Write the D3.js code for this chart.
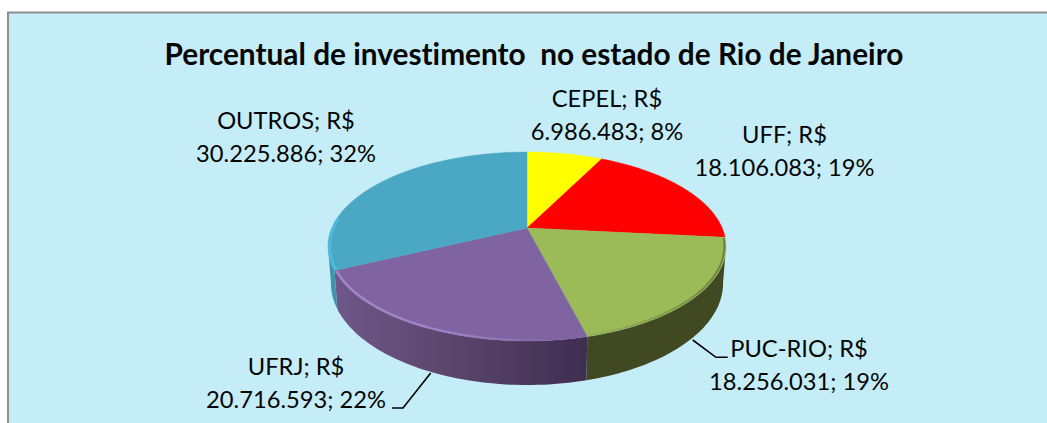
<!DOCTYPE html>
<html><head><meta charset="utf-8">
<script src="https://cdn.jsdelivr.net/npm/d3@7/dist/d3.min.js"></script>
<style>html,body{margin:0;padding:0;background:#fff}svg{display:block}text{font-family:Lato,sans-serif;fill:#050505;white-space:pre;font-variant-ligatures:none}</style>
</head><body><svg id="c" width="1047" height="423"></svg>
<script>
const categories=["CEPEL","UFF","PUC-RIO","UFRJ","OUTROS"];
const investments=[6986483,18106083,18256031,20716593,30225886];
const percents=[8,19,19,22,32];
const topColors=["#ffff00","#ff0000","#9bbb59","#8064a2","#4aa8c4"];
const titleText="Percentual de investimento  no estado de Rio de Janeiro";
const fmt=d3.formatLocale({decimal:",",thousands:".",grouping:[3],currency:["R$",""]}).format(",d");

const svg=d3.select("#c");
const defs=svg.append("defs");
svg.append("rect").attr("x",8).attr("y",12).attr("width",1039).attr("height",411).attr("fill","#c5edf8");
svg.append("path").attr("d","M8,423V12.5H1047").attr("fill","none").attr("stroke","#8e8e8e").attr("stroke-width",2);

// perspective projection of the pie disc
const cx=527,cy=228,R=195.2,k=-0.1958,A=46.24,DEPTH=35.4;
const proj=(t,r=1)=>{const u=Math.sin(t)*r,v=-Math.cos(t)*r,d=1+k*v;return [cx+R*u/d,(cy+A*v)/d];};
const projLow=t=>{const u=Math.sin(t),v=-Math.cos(t),d=1+k*v;return [cx+0.985*R*u/d,(cy+A*v+DEPTH)/d];};
const VIS0=101*Math.PI/180,VIS1=259*Math.PI/180;
const arcs=d3.pie().sort(null).value(d=>d)(investments);
const line=d3.line();
const sample=(a,b)=>d3.range(0,61).map(i=>a+(b-a)*i/60);

const grad=(id,x1,x2,stops)=>{const g=defs.append("linearGradient").attr("id",id).attr("gradientUnits","userSpaceOnUse").attr("x1",x1).attr("x2",x2).attr("y1",0).attr("y2",0);
 stops.forEach(s=>g.append("stop").attr("offset",s[0]).attr("stop-color",s[1]).attr("stop-opacity",s[2]==null?1:s[2]));};
grad("sidePurple",336,587,[[0,"#6f5789"],[0.5,"#594469"],[1,"#3e2e50"]]);
grad("rimPurple",336,587,[[0,"#ab8cd2",0.95],[0.5,"#ab8cd2",0.7],[0.85,"#ab8cd2",0]]);
grad("rimGreen",587,727,[[0,"#7d9148",0.2],[1,"#5f7035",0.8]]);
const sideFill=["none","none","#404922","url(#sidePurple)","#3e93ad"];
const rimStroke=[null,null,"url(#rimGreen)","url(#rimPurple)","#4fbadb"];

// walls
svg.append("g").selectAll("path").data(arcs.filter((d,i)=>sideFill[i]!=="none")).join("path")
 .attr("d",d=>{const a=Math.max(d.startAngle,VIS0),b=Math.min(d.endAngle,VIS1),s=sample(a,b);
   return line(s.map(t=>proj(t)).concat(s.slice().reverse().map(projLow)))+"Z";})
 .attr("fill",d=>sideFill[d.index]);

// top faces
svg.append("g").selectAll("path").data(arcs).join("path")
 .attr("d",d=>line([[cx,cy]].concat(sample(d.startAngle,d.endAngle).map(t=>proj(t))))+"Z")
 .attr("fill",d=>topColors[d.index]).attr("stroke",d=>topColors[d.index]).attr("stroke-width",0.4);

// bevel along the rim
svg.append("g").selectAll("path").data(arcs.filter((d,i)=>rimStroke[i])).join("path")
 .attr("d",d=>{const a=d.index===4?d.startAngle:d.startAngle+0.01,b=d.index===4?d.startAngle+0.55:d.endAngle-0.01;
   return line(sample(a,b).map(t=>proj(t,0.992)));})
 .attr("fill","none").attr("stroke",d=>rimStroke[d.index]).attr("stroke-width",d=>d.index===4?3:2);

// title
svg.append("text").attr("x",534).attr("y",64.5).attr("text-anchor","middle")
 .attr("font-size",29.8).attr("font-weight",700).attr("fill","#000").text(titleText);

// labels
const labelPos=[[607,106.5,140],[784.5,143,176],[799,357,390],[296,375,408],[286,129,162]];
const labels=svg.append("g").selectAll("text").data(categories).join("text")
 .attr("text-anchor","middle").attr("font-size",23.7);
labels.each(function(c,i){const p=labelPos[i],t=d3.select(this);
 t.append("tspan").attr("x",p[0]).attr("y",p[1]).text(c+"; R$");
 t.append("tspan").attr("x",p[0]).attr("y",p[2]).text(fmt(investments[i])+"; "+percents[i]+"%");});

// leader lines
const leaders=[[[692.7,340],[716,357.3],[727.7,357.3]],[[430.7,373],[403,408],[392,408]]];
svg.append("g").selectAll("path").data(leaders).join("path").attr("d",d=>line(d))
 .attr("fill","none").attr("stroke","#000").attr("stroke-width",1.6);
</script></body></html>
